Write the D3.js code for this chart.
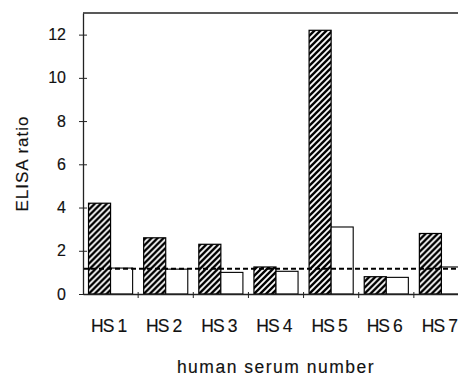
<!DOCTYPE html>
<html>
<head>
<meta charset="utf-8">
<script src="https://cdn.jsdelivr.net/npm/d3@7"></script>
<style>
  body { margin: 0; background: #fff; }
  text { font-family: "Liberation Sans", Arial, Helvetica, sans-serif; fill: #111; stroke: #111; stroke-width: 0.15px; }
</style>
</head>
<body>
<script>
// data
var categories = ["HS 1", "HS 2", "HS 3", "HS 4", "HS 5", "HS 6", "HS 7"];
var hatchedValues = [4.2, 2.6, 2.3, 1.25, 12.2, 0.8, 2.8];
var openValues = [1.2, 1.15, 1.0, 1.05, 3.1, 0.77, 1.25];
var cutoff = 1.17;
var yTicks = [0, 2, 4, 6, 8, 10, 12];

var svgWidth = 458;
var svgHeight = 376;

// plot area runs past the right edge of the picture
var plot = { left: 83, right: 469, top: 13, bottom: 294 };

var svg = d3.select("body")
  .append("svg")
  .attr("width", svgWidth)
  .attr("height", svgHeight);

// hatch pattern for the first series
var defs = svg.append("defs");
var hatch = defs.append("pattern")
  .attr("id", "hatch")
  .attr("patternUnits", "userSpaceOnUse")
  .attr("width", 6)
  .attr("height", 6);
hatch.append("rect").attr("width", 6).attr("height", 6).attr("fill", "#fff");
hatch.append("path")
  .attr("d", "M-1.5,1.5 l3,-3 M0,6 l6,-6 M4.5,7.5 l3,-3")
  .attr("stroke", "#000")
  .attr("stroke-width", 2.4);

// scales
var x0 = d3.scaleBand()
  .domain(categories)
  .range([plot.left, plot.right])
  .paddingInner(0.2)
  .paddingOuter(0.1);

var x1 = d3.scaleBand()
  .domain(["hatched", "open"])
  .range([0, x0.bandwidth()]);

var y = d3.scaleLinear()
  .domain([0, 13])
  .range([plot.bottom, plot.top]);

var rows = categories.map(function(c, i) {
  return { cat: c, hatched: hatchedValues[i], open: openValues[i] };
});

// frame top
svg.append("line")
  .attr("x1", plot.left).attr("x2", svgWidth)
  .attr("y1", plot.top).attr("y2", plot.top)
  .attr("stroke", "#222").attr("stroke-width", 1.3);

// bars
var groups = svg.selectAll("g.cat")
  .data(rows)
  .enter()
  .append("g")
  .attr("class", "cat")
  .attr("transform", d => `translate(${x0(d.cat)},0)`);

groups.append("rect")
  .attr("x", x1("hatched"))
  .attr("y", d => y(d.hatched))
  .attr("width", x1.bandwidth())
  .attr("height", d => y(0) - y(d.hatched))
  .attr("fill", "url(#hatch)")
  .attr("stroke", "#000")
  .attr("stroke-width", 1.2);

groups.append("rect")
  .attr("x", x1("open"))
  .attr("y", d => y(d.open))
  .attr("width", x1.bandwidth())
  .attr("height", d => y(0) - y(d.open))
  .attr("fill", "#fff")
  .attr("stroke", "#000")
  .attr("stroke-width", 1.1);

// cutoff line
svg.append("line")
  .attr("x1", plot.left).attr("x2", svgWidth)
  .attr("y1", y(cutoff)).attr("y2", y(cutoff))
  .attr("stroke", "#000")
  .attr("stroke-width", 2)
  .attr("stroke-dasharray", "5,3");

// y axis
var leftAxis = d3.axisLeft(y)
  .tickValues(yTicks)
  .tickSizeInner(-4)
  .tickSizeOuter(0)
  .tickPadding(0);

var yAxis = svg.append("g")
  .attr("transform", `translate(${plot.left},0)`)
  .call(leftAxis);
yAxis.select(".domain").attr("stroke", "#222").attr("stroke-width", 1.3);
yAxis.selectAll(".tick line").attr("x1", -4).attr("x2", 4).attr("stroke", "#222");
yAxis.selectAll(".tick text")
  .attr("x", -17)
  .attr("font-size", "16px")
  .attr("fill", "#111");

// x axis with boundary ticks
var bottomAxis = d3.axisBottom(x0).tickSize(0).tickSizeOuter(0).tickPadding(0);
var xAxis = svg.append("g")
  .attr("transform", `translate(0,${plot.bottom})`)
  .call(bottomAxis);
xAxis.select(".domain").attr("stroke", "#222").attr("stroke-width", 1.3);
xAxis.selectAll(".tick text")
  .attr("y", 37.5)
  .attr("dy", 0)
  .attr("dx", -2)
  .attr("font-size", "17.5px")
  .attr("letter-spacing", "-0.9px")
  .attr("fill", "#111");

var boundaries = categories.slice(1).map(c => x0(c) - x0.step() * x0.paddingInner() / 2);
svg.selectAll("line.sep")
  .data(boundaries)
  .enter()
  .append("line")
  .attr("class", "sep")
  .attr("x1", d => d).attr("x2", d => d)
  .attr("y1", plot.bottom - 2).attr("y2", plot.bottom + 4)
  .attr("stroke", "#222");

// axis titles
svg.append("text")
  .attr("transform", `translate(28, ${(plot.top + plot.bottom) / 2 + 10}) rotate(-90)`)
  .attr("text-anchor", "middle")
  .attr("font-size", "17px")
  .attr("letter-spacing", "1px")
  .text("ELISA ratio");

svg.append("text")
  .attr("x", (plot.left + plot.right) / 2)
  .attr("y", 373)
  .attr("text-anchor", "middle")
  .attr("font-size", "17.5px")
  .attr("letter-spacing", "1.5px")
  .text("human serum number");
</script>
</body>
</html>
